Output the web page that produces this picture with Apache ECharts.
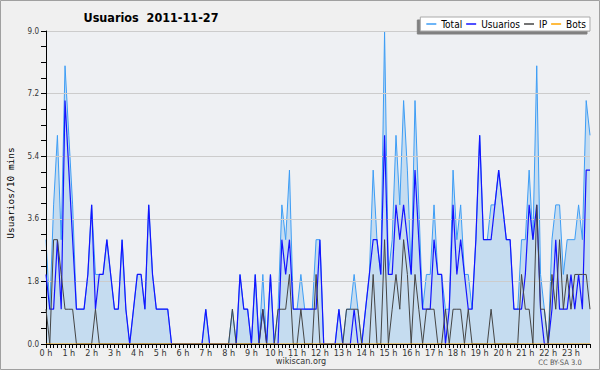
<!DOCTYPE html>
<html><head><meta charset="utf-8">
<script src="https://cdn.jsdelivr.net/npm/echarts@6/dist/echarts.min.js"></script>
<style>html,body{margin:0;padding:0;background:#f0f0f0}#c{width:600px;height:370px}</style>
</head><body><div id="c"></div>
<script>
// ---- data ----
const hourLabels = ['0 h','1 h','2 h','3 h','4 h','5 h','6 h','7 h','8 h','9 h','10 h','11 h','12 h','13 h','14 h','15 h','16 h','17 h','18 h','19 h','20 h','21 h','22 h','23 h'];
const minuteSlots = ['00','10','20','30','40','50'];
const categories = [];
hourLabels.forEach((h, hi) => minuteSlots.forEach(m => categories.push(hi + ':' + m)));

const total = [
  3,1,4,6,3,8,6,4,1,1, 1,2,4,2,2,2,3,2,1,1, 3,1,0,1,2,2,1,4,2,1,
  1,1,1,0,0,0,0,0,0,0, 0,0,1,0,0,0,0,0,0,1, 0,2,1,1,0,2,0,2,0,2,
  0,1,4,3,5,1,1,2,1,1, 1,3,3,0,0,0,0,1,0,1, 1,2,1,0,1,2,5,3,2,9,
  2,3,6,4,7,5,2,7,4,1, 2,2,4,2,2,1,1,5,3,4, 2,2,1,3,6,3,3,4,4,5,
  4,3,3,1,1,3,3,5,3,8, 2,1,0,3,4,4,2,3,3,3, 4,3,7,6
];
const usuarios = [
  2,1,1,3,1,7,5,3,1,1, 1,2,4,1,2,2,3,2,1,1, 3,1,0,1,2,2,1,4,2,1,
  1,1,1,0,0,0,0,0,0,0, 0,0,1,0,0,0,0,0,0,0, 0,2,1,1,0,2,0,1,0,2,
  0,0,3,2,3,1,1,1,1,1, 1,1,3,0,0,0,0,1,0,0, 0,1,0,0,1,2,3,3,2,6,
  2,2,4,3,4,3,2,5,3,1, 1,1,3,2,2,0,1,4,2,3, 2,1,1,3,6,3,3,3,4,5,
  4,3,3,1,1,1,2,4,3,4, 1,0,0,1,3,1,1,1,2,1, 2,1,5,5
];
const ip = [
  1,0,3,3,2,1,1,1,0,0, 0,0,0,1,0,0,0,0,0,0, 0,0,0,0,0,0,0,0,0,0,
  0,0,0,0,0,0,0,0,0,0, 0,0,0,0,0,0,0,0,0,1, 0,0,0,0,0,0,0,1,0,0,
  0,1,1,1,2,0,0,1,0,0, 0,2,0,0,0,0,0,0,0,1, 1,1,1,0,0,0,2,0,0,3,
  0,1,2,1,3,2,0,2,1,0, 1,1,1,0,0,1,0,1,1,1, 0,1,0,0,0,0,0,1,0,0,
  0,0,0,0,0,2,1,1,0,4, 1,1,0,2,1,3,1,2,1,2, 2,2,2,1
];
const bots = [
  0,0,0,0,0,0,0,0,0,0, 0,0,0,0,0,0,0,0,0,0, 0,0,0,0,0,0,0,0,0,0,
  0,0,0,0,0,0,0,0,0,0, 0,0,0,0,0,0,0,0,0,0, 0,0,0,0,0,0,0,0,0,0,
  0,0,0,0,0,0,0,0,0,0, 0,0,0,0,0,0,0,0,0,0, 0,0,0,0,0,0,0,0,0,0,
  0,0,0,0,0,0,0,0,0,0, 0,0,0,0,0,0,0,0,0,0, 0,0,0,0,0,0,0,0,0,0,
  0,0,0,0,0,0,0,0,0,0, 0,0,0,0,0,0,0,0,0,0, 0,0,0,0
];
const seriesNames = ['Total','Usuarios','IP','Bots'];
const yMax = 9.0, yStep = 1.8;
const titleText = 'Usuarios  2011-11-27';
const yAxisTitle = 'Usuarios/10 mins';

// ---- chart ----
const FONT = "'DejaVu Sans Condensed','Liberation Sans Narrow','DejaVu Sans',sans-serif";
const chart = echarts.init(document.getElementById('c'), null, {renderer: 'svg'});
chart.setOption({
  animation: false,
  backgroundColor: '#f0f0f0',
  grid: {left: 46, right: 10, top: 31, bottom: 26, show: true, backgroundColor: '#eef0f3', borderWidth: 0},
  legend: {
    data: seriesNames, right: 10, top: 17, icon: 'rect', itemWidth: 10, itemHeight: 1.5, itemGap: 4,
    padding: [2, 4, 2, 6], backgroundColor: '#ffffff', borderColor: '#aaaaaa', borderWidth: 1,
    shadowColor: '#808080', shadowOffsetX: -3, shadowOffsetY: 3, shadowBlur: 0,
    textStyle: {fontSize: 10, color: '#000', fontFamily: FONT}
  },
  xAxis: {
    type: 'category', data: categories, boundaryGap: false, z: 5,
    axisLine: {lineStyle: {color: '#000', width: 1}},
    axisTick: {interval: 0, length: 4, lineStyle: {color: '#000'}},
    axisLabel: {interval: 5, formatter: (v, i) => hourLabels[Math.round(i / 6)], fontSize: 9, color: '#333', margin: 4, fontFamily: FONT},
    splitLine: {show: false}
  },
  yAxis: {
    type: 'value', min: 0, max: yMax, interval: yStep, z: 2,
    axisLine: {show: true, lineStyle: {color: '#000'}},
    axisTick: {show: true, length: 5, lineStyle: {color: '#000'}},
    minorTick: {show: true, splitNumber: 4, length: 5, lineStyle: {color: '#000'}},
    axisLabel: {formatter: v => v.toFixed(1), fontSize: 8, color: '#333', margin: 7, fontFamily: FONT},
    splitLine: {lineStyle: {color: '#cccccc', width: 1}}
  },
  series: [
    {name: 'Total', type: 'line', data: total, symbol: 'none', z: 1, color: '#3d9df5',
     lineStyle: {width: 1, color: '#3d9df5'}, areaStyle: {color: '#c5dcf0', opacity: 1}},
    {name: 'Usuarios', type: 'line', data: usuarios, symbol: 'none', z: 3, color: '#1414ff',
     lineStyle: {width: 1.2, color: '#1414ff'}},
    {name: 'IP', type: 'line', data: ip, symbol: 'none', z: 3, color: '#444444',
     lineStyle: {width: 1, color: '#444444'}},
    {name: 'Bots', type: 'line', data: bots, symbol: 'none', z: 3, color: '#ffa500',
     lineStyle: {width: 1, color: '#ffa500'}}
  ],
  graphic: [
    {type: 'rect', shape: {x: 0.5, y: 0.5, width: 599, height: 369}, style: {fill: 'none', stroke: '#a0a0a0', lineWidth: 1}, z: 100},
    {type: 'text', x: 151, y: 17, style: {text: titleText, font: "bold 12.5px " + FONT, fill: '#000', align: 'center', verticalAlign: 'middle'}},
    {type: 'text', x: 10, y: 193, rotation: Math.PI / 2, style: {text: yAxisTitle, font: "9.5px 'DejaVu Sans Mono',monospace", fill: '#000', align: 'center', verticalAlign: 'middle'}},
    {type: 'text', x: 301, y: 361, style: {text: 'wikiscan.org', font: "9px " + FONT, fill: '#333', align: 'center', verticalAlign: 'middle'}},
    {type: 'text', x: 560, y: 362, style: {text: 'CC BY-SA 3.0', font: "7.5px " + FONT, fill: '#555', align: 'center', verticalAlign: 'middle'}}
  ]
});
</script></body></html>
